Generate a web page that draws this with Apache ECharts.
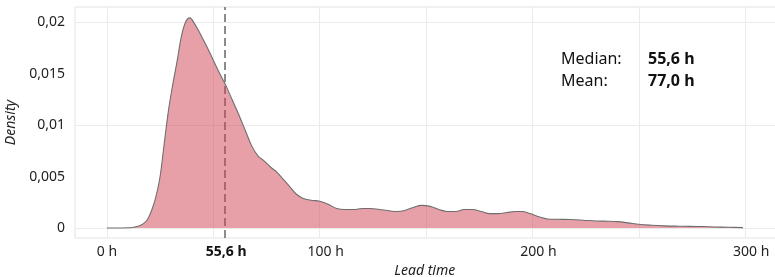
<!DOCTYPE html>
<html>
<head>
<meta charset="utf-8">
<script src="https://cdn.jsdelivr.net/npm/echarts@6/dist/echarts.min.js"></script>
<style>
  html, body { margin: 0; padding: 0; background: #fff; }
  #chart { width: 775px; height: 277px; }
</style>
</head>
<body>
<div id="chart"></div>
<script>
// lead time (h) and estimated density
const leadTime = [0, 5, 10, 12, 15, 17, 19, 21, 23, 25, 27, 29, 31, 33, 35, 37, 39, 41, 43, 45, 47, 50, 53, 56, 59, 62, 65, 68, 71, 74, 77, 80, 83, 86, 89, 92, 96, 100, 104, 108, 112, 116, 120, 124, 128, 132, 136, 140, 144, 148, 152, 156, 160, 164, 168, 172, 176, 180, 184, 188, 192, 195, 199, 203, 207, 212, 218, 224, 230, 236, 240, 245, 250, 256, 262, 268, 274, 280, 286, 292, 299];
const density = [0, 0, 0.00002, 0.00005, 0.0002, 0.0004, 0.0008, 0.0017, 0.003, 0.005, 0.0083, 0.0115, 0.014, 0.0162, 0.0186, 0.0200, 0.0204, 0.0199, 0.0192, 0.0184, 0.0176, 0.0163, 0.0150, 0.0138, 0.0124, 0.0110, 0.0095, 0.0080, 0.0070, 0.0065, 0.0059, 0.0054, 0.0047, 0.0040, 0.0033, 0.0029, 0.0027, 0.0026, 0.0023, 0.0019, 0.0018, 0.0018, 0.0019, 0.0019, 0.0018, 0.0017, 0.0016, 0.0017, 0.0020, 0.0022, 0.0021, 0.0018, 0.0016, 0.0016, 0.0018, 0.0018, 0.0016, 0.0014, 0.0014, 0.0015, 0.0016, 0.0016, 0.0014, 0.0011, 0.00088, 0.00085, 0.00083, 0.00076, 0.00068, 0.00066, 0.00062, 0.0005, 0.00036, 0.00027, 0.00021, 0.00018, 0.00016, 0.00014, 0.0001, 0.00008, 0.00004];

const median = 55.6;
const mean = 77.0;

const xTicks = [0, 55.6, 100, 200, 300];
const xTickLabels = ['0 h', '55,6 h', '100 h', '200 h', '300 h'];
const yTicks = [0, 0.005, 0.01, 0.015, 0.02];
const yTickLabels = ['0', '0,005', '0,01', '0,015', '0,02'];
const xGrid = [0, 50, 100, 150, 200, 250, 300];
const yGrid = [0, 0.0025, 0.005, 0.0075, 0.01, 0.0125, 0.015, 0.0175, 0.02];

const FONT = '"Noto Sans", sans-serif';

let chart = echarts.init(document.getElementById('chart'));

let gridLines = [];
xGrid.forEach(v => gridLines.push({ xAxis: v }));
yGrid.forEach(v => gridLines.push({ yAxis: v }));

chart.setOption({
    animation: false,
    grid: {
        left: 75,
        top: 7,
        width: 709.5,
        height: 231,
        outerBoundsMode: 'none',
        containLabel: false,
        show: true,
        borderColor: '#e3e3e3',
        borderWidth: 1
    },
    xAxis: {
        type: 'value',
        min: -15,
        max: 318.5,
        name: 'Lead time',
        nameLocation: 'middle',
        nameGap: 24,
        nameTextStyle: { fontFamily: FONT, fontSize: 14, fontStyle: 'italic', color: '#222', padding: [0, 10, 0, 0] },
        axisLine: { show: false },
        axisTick: { show: false },
        splitLine: { show: false },
        axisLabel: {
            customValues: xTicks,
            margin: 7,
            fontFamily: FONT,
            fontSize: 14,
            color: '#222',
            formatter: function (v) {
                let i = xTicks.indexOf(v);
                if (v === median) return '{b|' + xTickLabels[i] + '}';
                if (v === 0) return xTickLabels[i];
                return '{s|' + xTickLabels[i] + '}';
            },
            rich: {
                b: { fontFamily: FONT, fontSize: 14, fontWeight: 'bold', color: '#111', padding: [0, 0, 0, 2] },
                s: { fontFamily: FONT, fontSize: 14, color: '#222', padding: [0, 0, 0, 12] }
            }
        }
    },
    yAxis: {
        type: 'value',
        min: -0.00097,
        max: 0.02146,
        name: 'Density',
        nameLocation: 'middle',
        nameGap: 54,
        nameTextStyle: { fontFamily: FONT, fontSize: 14, fontStyle: 'italic', color: '#222' },
        axisLine: { show: false },
        axisTick: { show: false },
        splitLine: { show: false },
        axisLabel: {
            customValues: yTicks,
            margin: 10,
            fontFamily: FONT,
            fontSize: 14,
            color: '#222',
            formatter: function (v) {
                return yTickLabels[yTicks.indexOf(v)];
            }
        }
    },
    graphic: [
        { type: 'text', left: 561, top: 51, style: { text: 'Median:', font: '16px ' + FONT, fill: '#111' } },
        { type: 'text', left: 561, top: 73, style: { text: 'Mean:', font: '16px ' + FONT, fill: '#111' } },
        { type: 'text', left: 648, top: 51, style: { text: median.toFixed(1).replace('.', ',') + ' h', font: 'bold 16px ' + FONT, fill: '#111' } },
        { type: 'text', left: 648, top: 73, style: { text: mean.toFixed(1).replace('.', ',') + ' h', font: 'bold 16px ' + FONT, fill: '#111' } }
    ],
    series: [
        {
            // background grid, on its own layer below the density
            type: 'line',
            data: [],
            zlevel: 0,
            silent: true,
            markLine: {
                silent: true,
                symbol: 'none',
                label: { show: false },
                lineStyle: { color: '#ebebeb', width: 1, type: 'solid' },
                data: gridLines
            }
        },
        {
            type: 'line',
            zlevel: 1,
            data: leadTime.map((x, i) => [x, density[i]]),
            smooth: 0.35,
            symbol: 'none',
            lineStyle: { color: '#6e6e6e', width: 1.1 },
            areaStyle: { color: 'rgb(209,65,81)', opacity: 0.5 }
        },
        {
            type: 'line',
            data: [],
            zlevel: 2,
            silent: true,
            markLine: {
                silent: true,
                symbol: 'none',
                label: { show: false },
                lineStyle: { color: '#8c8c8c', width: 2, type: [8, 4] },
                data: [{ xAxis: median }]
            }
        }
    ]
});
</script>
</body>
</html>
